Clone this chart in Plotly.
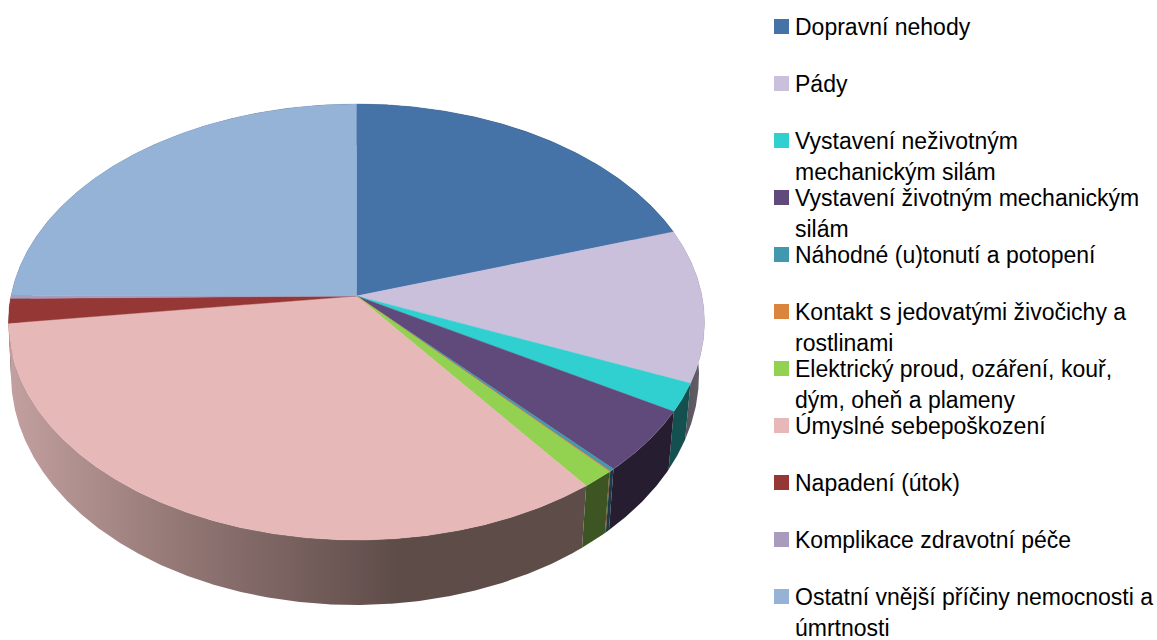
import numpy as np
import plotly.graph_objects as go

# ---- data ----
labels = [
    "Dopravní nehody", "Pády", "Vystavení neživotným\nmechanickým silám",
    "Vystavení životným mechanickým\nsilám", "Náhodné (u)tonutí a potopení",
    "Kontakt s jedovatými živočichy a\nrostlinami",
    "Elektrický proud, ozáření, kouř,\ndým, oheň a plameny",
    "Úmyslné sebepoškození", "Napadení (útok)", "Komplikace zdravotní péče",
    "Ostatní vnější příčiny nemocnosti a\númrtnosti",
]
values = [20.0, 11.35, 2.1, 4.7, 0.2, 0.05, 1.35, 33.3, 1.8, 0.2, 25.0]
top_colors = ["#4572a7", "#cbc0dc", "#31d0d0", "#604a7b", "#4198af", "#db843d",
              "#93d150", "#e6b8b7", "#953735", "#a99bbd", "#95b3d7"]
wall_colors = ["#1f3349", "#56525c", "#14504f", "#261d30", "#1f3a45", "#5f3a1a",
               "#3d5523", "#5e4c49", "#4a1b1a", "#4d4558", "#425369"]

# ---- projection of the tilted disc (perspective) ----
CX, APEX_Y, TOP_Y, BOT_Y = 356.5, 296.0, 104.0, 540.0
ELL_CY, ELL_RX, ELL_RY = (TOP_Y + BOT_Y) / 2, 348.0, (BOT_Y - TOP_Y) / 2
LOW_CX, LOW_CY, LOW_RX, LOW_RY = 355.0, 375.0, 344.0, 230.0
c = (2 * APEX_Y - TOP_Y - BOT_Y) / (TOP_Y - BOT_Y)
A = TOP_Y * (1 + c) - APEX_Y
D = ELL_RX * np.sqrt(1 - c * c)


def project(theta):
    """Fraction-of-circle angle (clockwise from top) to screen coordinates."""
    x, y = np.sin(theta), np.cos(theta)
    w = 1 + c * y
    X, Y = D * x / w, (A * y + APEX_Y) / w
    u, v = X / ELL_RX, (ELL_CY - Y) / ELL_RY
    return CX + X, Y, LOW_CX + LOW_RX * u, LOW_CY - LOW_RY * v


total = sum(values)
edges = np.concatenate([[0], np.cumsum(values)]) / total * 2 * np.pi
rims = []
for i in range(len(values)):
    n = max(4, int(values[i] * 12))
    rims.append(project(np.linspace(edges[i], edges[i + 1], n)))

fig = go.Figure()

# walls, back to front
for i in [10, 9, 8, 0, 1, 2, 3, 4, 5, 6, 7]:
    tx, ty, bx, by = rims[i]
    name = labels[i].replace("\n", " ")
    kw = dict(fillcolor=wall_colors[i])
    if i == 7:
        kw = dict(fillgradient=dict(
            type="horizontal", start=10, stop=420,
            colorscale=[[0, "#c2a09f"], [0.45, "#8f7472"], [0.95, "#5e4c49"], [1, "#5e4c49"]]))
    if i == 1:
        kw = dict(fillgradient=dict(
            type="horizontal", start=670, stop=705,
            colorscale=[[0, "#4e4a54"], [1, "#66626c"]]))
    fig.add_trace(go.Scatter(
        x=np.concatenate([tx, bx[::-1]]), y=np.concatenate([ty, by[::-1]]),
        mode="lines", fill="toself", line=dict(width=0), hoverinfo="skip",
        showlegend=False, name=name, **kw))

# top face
for i in range(len(values)):
    tx, ty, _, _ = rims[i]
    fig.add_trace(go.Scatter(
        x=np.concatenate([[CX], tx, [CX]]), y=np.concatenate([[APEX_Y], ty, [APEX_Y]]),
        mode="lines", fill="toself", fillcolor=top_colors[i],
        line=dict(width=0.4 if values[i] > 0.1 else 0.8, color=top_colors[i]),
        hoverinfo="text", text=f"{labels[i].replace(chr(10), ' ')}: {values[i]} %",
        showlegend=False))

# legend, drawn by hand because its rows overlap on purpose
LEG_X, LEG_Y0, LEG_STEP, LINE_STEP, TXT_X = 781.5, 26.5, 57.0, 31.0, 793
leg_y = [LEG_Y0 + k * LEG_STEP for k in range(len(labels))]
fig.add_trace(go.Scatter(
    x=[LEG_X] * len(labels), y=leg_y, mode="markers",
    marker=dict(symbol="square", size=15, color=top_colors, line=dict(width=0)),
    hoverinfo="skip", showlegend=False))
for y0, lab in zip(leg_y, labels):
    for j, line in enumerate(lab.split("\n")):
        fig.add_annotation(x=TXT_X, y=y0 + j * LINE_STEP, text=line, showarrow=False,
                           xanchor="left", yanchor="middle", align="left",
                           font=dict(family="Liberation Sans", size=23, color="#000000"))

fig.update_layout(
    width=1157, height=640, margin=dict(l=0, r=0, t=0, b=0),
    paper_bgcolor="white", plot_bgcolor="white", showlegend=False,
    xaxis=dict(range=[0, 1157], visible=False, fixedrange=True),
    yaxis=dict(range=[640, 0], visible=False, fixedrange=True),
)
fig.write_html("out.html", config={"displayModeBar": False},
               post_script="document.body.style.margin='0';document.body.style.overflow='hidden';")
